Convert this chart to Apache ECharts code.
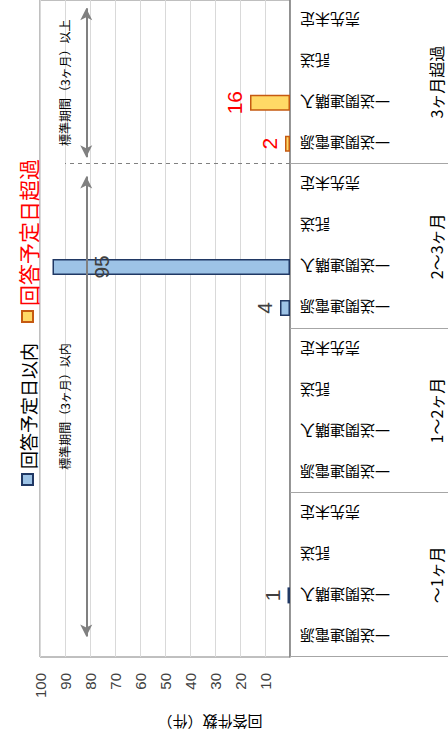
<!DOCTYPE html>
<html><head><meta charset="utf-8">
<script src="https://cdn.jsdelivr.net/npm/echarts@6/dist/echarts.min.js"></script>
<style>
html,body{margin:0;padding:0;background:#fff;width:448px;height:738px;overflow:hidden}
#chart{position:absolute;left:0;top:0;width:738px;height:448px;transform-origin:0 0;transform:translate(0,738px) rotate(-90deg)}
</style></head><body><div id="chart"></div>
<script>
// ---- data ----
const groups = ['～1ヶ月', '1～2ヶ月', '2～3ヶ月', '3ヶ月超過'];
const subCategories = ['一送関連電源', '一送関連購入', '託送', '売先未定'];
const withinDue = [0, 1, 0, 0,  0, 0, 0, 0,  4, 95, 0, 0,  0, 0, 0, 0];   // 回答予定日以内
const overDue   = [0, 0, 0, 0,  0, 0, 0, 0,  0, 0, 0, 0,   2, 16, 0, 0];  // 回答予定日超過
const seriesNames = ['回答予定日以内', '回答予定日超過'];
const valueMin = 0, valueMax = 100, valueStep = 10;
const axisTitle = '回答件数（件）';
const standardTexts = ['標準期間（3ヶ月）以内', '標準期間（3ヶ月）以上'];

// ---- build ----
const categories = [];
groups.forEach(g => subCategories.forEach(s => categories.push(s)));
const nCat = categories.length;
const FONT = '"Liberation Sans","Noto Sans CJK JP",sans-serif';
const JFONT = '"Noto Sans CJK JP",sans-serif';

function toData(arr, bigInside) {
  return arr.map(v => {
    if (v === 0) return null;
    if (v === bigInside) return { value: v, label: { position: 'insideTop', distance: 38 } };
    return v;
  });
}

const chart = echarts.init(document.getElementById('chart'), null, { renderer: 'svg' });
chart.setOption({
  animation: false,
  backgroundColor: '#fff',
  legend: {
    top: 12, left: 247, itemWidth: 11, itemHeight: 11, itemGap: 20, icon: 'rect',
    textStyle: { fontSize: 18, fontFamily: JFONT },
    data: [
      { name: seriesNames[0], textStyle: { color: '#000', fontSize: 18 } },
      { name: seriesNames[1], textStyle: { color: '#FF0000', fontSize: 21 } }
    ]
  },
  grid: { left: 81, right: 0, top: 40, bottom: 158, show: true, borderColor: '#808080', borderWidth: 1, outerBoundsMode: 'none' },
  xAxis: [
    {
      type: 'category', data: categories, position: 'bottom',
      axisLine: { lineStyle: { color: '#808080', width: 1.5 } },
      axisTick: { show: false },
      axisLabel: { interval: 0, rotate: 90, margin: 10, fontSize: 15, color: '#000', fontFamily: JFONT }
    },
    {
      type: 'category', data: groups, position: 'bottom',
      axisLine: { show: false },
      axisTick: { show: true, length: 158, lineStyle: { color: '#a6a6a6', width: 1 } },
      axisLabel: { interval: 0, margin: 138, fontSize: 16, color: '#000', fontFamily: JFONT }
    },
    { type: 'value', min: 0, max: nCat, show: false }
  ],
  yAxis: {
    type: 'value', min: valueMin, max: valueMax, interval: valueStep,
    axisLine: { show: false }, axisTick: { show: false },
    splitLine: { lineStyle: { color: '#d9d9d9', width: 1 } },
    axisLabel: { fontSize: 15, margin: 16, color: '#404040', fontFamily: FONT, showMinLabel: false },
    name: axisTitle, nameLocation: 'middle', nameGap: 58, nameRotate: 90,
    nameTextStyle: { fontSize: 15, color: '#000', fontFamily: JFONT, padding: [0, 90, 0, 0] }
  },
  series: [
    {
      name: seriesNames[0], type: 'bar', xAxisIndex: 0, data: toData(withinDue, 95),
      barWidth: 16, barGap: '-100%',
      itemStyle: { color: '#9DC3E6', borderColor: '#203864', borderWidth: 1.5 },
      label: { show: true, position: 'top', distance: 5, fontSize: 21, color: '#404040', fontFamily: FONT }
    },
    {
      name: seriesNames[1], type: 'bar', xAxisIndex: 0, data: toData(overDue, null),
      barWidth: 16, barGap: '-100%',
      itemStyle: { color: '#FFD966', borderColor: '#C55A11', borderWidth: 1.5 },
      label: { show: true, position: 'top', distance: 5, fontSize: 21, color: '#FF0000', fontFamily: FONT }
    },
    {
      type: 'line', xAxisIndex: 2, yAxisIndex: 0, data: [], silent: true,
      markLine: {
        silent: true, symbol: ['arrow', 'arrow'], symbolSize: [9, 12],
        lineStyle: { color: '#808080', width: 2, type: 'solid' },
        label: { show: true, position: 'middle', distance: 16, fontSize: 12, color: '#000', fontFamily: JFONT },
        data: [
          [{ coord: [0.5, 81.5], label: { formatter: standardTexts[0] } }, { coord: [11.7, 81.5] }],
          [{ coord: [12.17, 81.5], label: { formatter: standardTexts[1] } }, { coord: [15.8, 81.5] }],
          [{ coord: [12, 0], symbol: 'none', label: { show: false }, lineStyle: { type: [4, 4], width: 1 } },
           { coord: [12, 90], symbol: 'none' }]
        ]
      }
    }
  ]
});
</script></body></html>
